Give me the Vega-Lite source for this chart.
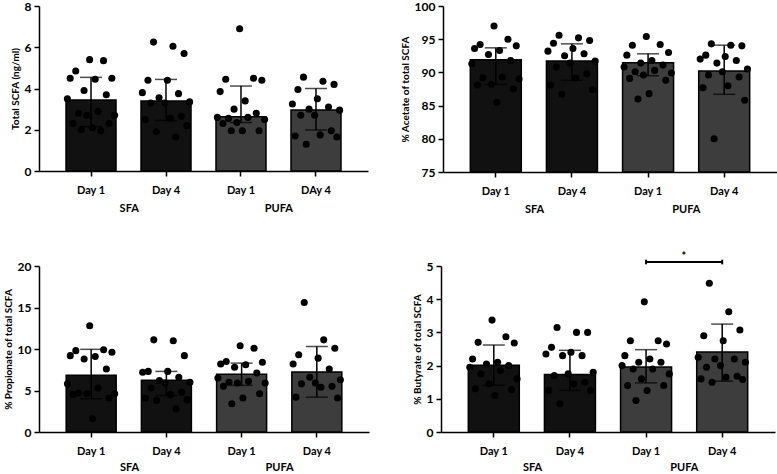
{
"$schema":"https://vega.github.io/schema/vega-lite/v6.json",
"padding":{"left":3,"top":0,"right":0,"bottom":0},
"bounds":"flush",
"spacing":260,
"datasets":{
"b1":[{"cat":"SFA|Day 1","group":"SFA","mean":3.44,"lo":2.15,"hi":4.54},{"cat":"SFA|Day 4","group":"SFA","mean":3.39,"lo":2.45,"hi":4.44},{"cat":"PUFA|Day 1","group":"PUFA","mean":2.63,"lo":2.35,"hi":4.12},{"cat":"PUFA|DAy 4","group":"PUFA","mean":2.96,"lo":1.99,"hi":4.0}],
"b2":[{"cat":"SFA|Day 1","group":"SFA","mean":91.92,"lo":88.2,"hi":93.7},{"cat":"SFA|Day 4","group":"SFA","mean":91.7,"lo":88.8,"hi":94.3},{"cat":"PUFA|Day 1","group":"PUFA","mean":91.47,"lo":89.5,"hi":92.8},{"cat":"PUFA|Day 4","group":"PUFA","mean":90.2,"lo":86.7,"hi":94.1}],
"b3":[{"cat":"SFA|Day 1","group":"SFA","mean":6.83,"lo":4.0,"hi":9.96},{"cat":"SFA|Day 4","group":"SFA","mean":6.22,"lo":4.38,"hi":7.3},{"cat":"PUFA|Day 1","group":"PUFA","mean":6.95,"lo":5.62,"hi":8.3},{"cat":"PUFA|Day 4","group":"PUFA","mean":7.23,"lo":4.2,"hi":10.3}],
"b4":[{"cat":"SFA|Day 1","group":"SFA","mean":2.01,"lo":1.41,"hi":2.62},{"cat":"SFA|Day 4","group":"SFA","mean":1.73,"lo":1.25,"hi":2.46},{"cat":"PUFA|Day 1","group":"PUFA","mean":1.96,"lo":1.48,"hi":2.48},{"cat":"PUFA|Day 4","group":"PUFA","mean":2.41,"lo":1.53,"hi":3.25}],
"s1":[
{"cat":"SFA|Day 1","id":9,"value":5.4},{"cat":"SFA|Day 1","id":14,"value":5.35},{"cat":"SFA|Day 1","id":4,"value":4.85},{"cat":"SFA|Day 1","id":17,"value":4.5},{"cat":"SFA|Day 1","id":2,"value":4.5},{"cat":"SFA|Day 1","id":11,"value":4.45},{"cat":"SFA|Day 1","id":7,"value":3.9},{"cat":"SFA|Day 1","id":15,"value":3.7},{"cat":"SFA|Day 1","id":1,"value":3.5},{"cat":"SFA|Day 1","id":12,"value":2.9},{"cat":"SFA|Day 1","id":5,"value":2.8},{"cat":"SFA|Day 1","id":18,"value":2.7},{"cat":"SFA|Day 1","id":8,"value":2.7},{"cat":"SFA|Day 1","id":3,"value":2.3},{"cat":"SFA|Day 1","id":16,"value":2.3},{"cat":"SFA|Day 1","id":10,"value":2.1},{"cat":"SFA|Day 1","id":6,"value":2.0},{"cat":"SFA|Day 1","id":13,"value":1.95},
{"cat":"SFA|Day 4","id":5,"value":6.25},{"cat":"SFA|Day 4","id":12,"value":6.05},{"cat":"SFA|Day 4","id":16,"value":5.7},{"cat":"SFA|Day 4","id":3,"value":4.4},{"cat":"SFA|Day 4","id":10,"value":4.4},{"cat":"SFA|Day 4","id":1,"value":3.8},{"cat":"SFA|Day 4","id":14,"value":3.75},{"cat":"SFA|Day 4","id":7,"value":3.55},{"cat":"SFA|Day 4","id":18,"value":3.35},{"cat":"SFA|Day 4","id":9,"value":3.3},{"cat":"SFA|Day 4","id":4,"value":3.3},{"cat":"SFA|Day 4","id":15,"value":2.65},{"cat":"SFA|Day 4","id":11,"value":2.55},{"cat":"SFA|Day 4","id":2,"value":2.5},{"cat":"SFA|Day 4","id":17,"value":2.2},{"cat":"SFA|Day 4","id":6,"value":1.9},{"cat":"SFA|Day 4","id":13,"value":1.65},
{"cat":"PUFA|Day 1","id":9,"value":6.9},{"cat":"PUFA|Day 1","id":14,"value":4.5},{"cat":"PUFA|Day 1","id":4,"value":4.45},{"cat":"PUFA|Day 1","id":17,"value":4.4},{"cat":"PUFA|Day 1","id":2,"value":3.85},{"cat":"PUFA|Day 1","id":11,"value":3.4},{"cat":"PUFA|Day 1","id":7,"value":3.0},{"cat":"PUFA|Day 1","id":15,"value":2.8},{"cat":"PUFA|Day 1","id":1,"value":2.6},{"cat":"PUFA|Day 1","id":12,"value":2.6},{"cat":"PUFA|Day 1","id":5,"value":2.55},{"cat":"PUFA|Day 1","id":18,"value":2.5},{"cat":"PUFA|Day 1","id":8,"value":2.35},{"cat":"PUFA|Day 1","id":3,"value":2.3},{"cat":"PUFA|Day 1","id":16,"value":1.95},{"cat":"PUFA|Day 1","id":10,"value":1.95},{"cat":"PUFA|Day 1","id":6,"value":1.95},
{"cat":"PUFA|DAy 4","id":5,"value":4.55},{"cat":"PUFA|DAy 4","id":12,"value":4.35},{"cat":"PUFA|DAy 4","id":16,"value":4.2},{"cat":"PUFA|DAy 4","id":3,"value":3.95},{"cat":"PUFA|DAy 4","id":10,"value":3.5},{"cat":"PUFA|DAy 4","id":1,"value":3.25},{"cat":"PUFA|DAy 4","id":14,"value":3.1},{"cat":"PUFA|DAy 4","id":7,"value":3.0},{"cat":"PUFA|DAy 4","id":18,"value":2.95},{"cat":"PUFA|DAy 4","id":9,"value":2.7},{"cat":"PUFA|DAy 4","id":4,"value":2.7},{"cat":"PUFA|DAy 4","id":15,"value":1.95},{"cat":"PUFA|DAy 4","id":11,"value":1.75},{"cat":"PUFA|DAy 4","id":2,"value":1.7},{"cat":"PUFA|DAy 4","id":17,"value":1.65},{"cat":"PUFA|DAy 4","id":6,"value":1.3}
],
"s2":[
{"cat":"SFA|Day 1","id":9,"value":97.0},{"cat":"SFA|Day 1","id":14,"value":95.0},{"cat":"SFA|Day 1","id":4,"value":94.2},{"cat":"SFA|Day 1","id":17,"value":94.0},{"cat":"SFA|Day 1","id":2,"value":93.6},{"cat":"SFA|Day 1","id":11,"value":93.3},{"cat":"SFA|Day 1","id":7,"value":92.7},{"cat":"SFA|Day 1","id":15,"value":91.8},{"cat":"SFA|Day 1","id":1,"value":91.3},{"cat":"SFA|Day 1","id":12,"value":89.3},{"cat":"SFA|Day 1","id":5,"value":89.2},{"cat":"SFA|Day 1","id":18,"value":89.0},{"cat":"SFA|Day 1","id":8,"value":88.2},{"cat":"SFA|Day 1","id":3,"value":88.1},{"cat":"SFA|Day 1","id":16,"value":87.5},{"cat":"SFA|Day 1","id":10,"value":85.5},
{"cat":"SFA|Day 4","id":5,"value":95.6},{"cat":"SFA|Day 4","id":12,"value":95.2},{"cat":"SFA|Day 4","id":16,"value":94.8},{"cat":"SFA|Day 4","id":3,"value":94.4},{"cat":"SFA|Day 4","id":10,"value":93.6},{"cat":"SFA|Day 4","id":1,"value":93.2},{"cat":"SFA|Day 4","id":14,"value":92.8},{"cat":"SFA|Day 4","id":7,"value":92.5},{"cat":"SFA|Day 4","id":18,"value":91.7},{"cat":"SFA|Day 4","id":9,"value":91.4},{"cat":"SFA|Day 4","id":4,"value":90.8},{"cat":"SFA|Day 4","id":15,"value":89.8},{"cat":"SFA|Day 4","id":11,"value":89.2},{"cat":"SFA|Day 4","id":2,"value":88.1},{"cat":"SFA|Day 4","id":17,"value":87.4},{"cat":"SFA|Day 4","id":6,"value":86.7},
{"cat":"PUFA|Day 1","id":9,"value":95.4},{"cat":"PUFA|Day 1","id":14,"value":94.2},{"cat":"PUFA|Day 1","id":4,"value":94.1},{"cat":"PUFA|Day 1","id":17,"value":93.0},{"cat":"PUFA|Day 1","id":2,"value":92.6},{"cat":"PUFA|Day 1","id":11,"value":91.8},{"cat":"PUFA|Day 1","id":7,"value":91.4},{"cat":"PUFA|Day 1","id":15,"value":91.1},{"cat":"PUFA|Day 1","id":1,"value":90.8},{"cat":"PUFA|Day 1","id":12,"value":90.3},{"cat":"PUFA|Day 1","id":5,"value":90.1},{"cat":"PUFA|Day 1","id":18,"value":89.9},{"cat":"PUFA|Day 1","id":8,"value":89.6},{"cat":"PUFA|Day 1","id":3,"value":89.1},{"cat":"PUFA|Day 1","id":16,"value":88.8},{"cat":"PUFA|Day 1","id":10,"value":86.8},{"cat":"PUFA|Day 1","id":6,"value":86.0},
{"cat":"PUFA|Day 4","id":5,"value":94.3},{"cat":"PUFA|Day 4","id":12,"value":94.1},{"cat":"PUFA|Day 4","id":16,"value":94.0},{"cat":"PUFA|Day 4","id":3,"value":92.6},{"cat":"PUFA|Day 4","id":10,"value":92.4},{"cat":"PUFA|Day 4","id":1,"value":92.0},{"cat":"PUFA|Day 4","id":14,"value":91.8},{"cat":"PUFA|Day 4","id":7,"value":91.4},{"cat":"PUFA|Day 4","id":18,"value":90.5},{"cat":"PUFA|Day 4","id":9,"value":90.1},{"cat":"PUFA|Day 4","id":4,"value":89.6},{"cat":"PUFA|Day 4","id":15,"value":89.3},{"cat":"PUFA|Day 4","id":11,"value":88.0},{"cat":"PUFA|Day 4","id":2,"value":87.7},{"cat":"PUFA|Day 4","id":17,"value":85.8},{"cat":"PUFA|Day 4","id":6,"value":80.0}
],
"s3":[
{"cat":"SFA|Day 1","id":9,"value":12.8},{"cat":"SFA|Day 1","id":14,"value":9.9},{"cat":"SFA|Day 1","id":4,"value":9.8},{"cat":"SFA|Day 1","id":17,"value":9.6},{"cat":"SFA|Day 1","id":2,"value":9.2},{"cat":"SFA|Day 1","id":11,"value":9.1},{"cat":"SFA|Day 1","id":7,"value":8.8},{"cat":"SFA|Day 1","id":15,"value":7.6},{"cat":"SFA|Day 1","id":1,"value":5.8},{"cat":"SFA|Day 1","id":12,"value":5.3},{"cat":"SFA|Day 1","id":5,"value":4.7},{"cat":"SFA|Day 1","id":18,"value":4.6},{"cat":"SFA|Day 1","id":8,"value":4.6},{"cat":"SFA|Day 1","id":3,"value":4.5},{"cat":"SFA|Day 1","id":16,"value":4.1},{"cat":"SFA|Day 1","id":10,"value":1.6},
{"cat":"SFA|Day 4","id":5,"value":11.1},{"cat":"SFA|Day 4","id":12,"value":11.0},{"cat":"SFA|Day 4","id":16,"value":9.2},{"cat":"SFA|Day 4","id":3,"value":7.3},{"cat":"SFA|Day 4","id":10,"value":7.3},{"cat":"SFA|Day 4","id":1,"value":7.2},{"cat":"SFA|Day 4","id":14,"value":6.6},{"cat":"SFA|Day 4","id":7,"value":6.2},{"cat":"SFA|Day 4","id":18,"value":6.0},{"cat":"SFA|Day 4","id":9,"value":5.9},{"cat":"SFA|Day 4","id":4,"value":5.3},{"cat":"SFA|Day 4","id":15,"value":4.8},{"cat":"SFA|Day 4","id":11,"value":4.5},{"cat":"SFA|Day 4","id":2,"value":4.1},{"cat":"SFA|Day 4","id":17,"value":3.9},{"cat":"SFA|Day 4","id":6,"value":3.8},{"cat":"SFA|Day 4","id":13,"value":2.8},
{"cat":"PUFA|Day 1","id":9,"value":10.4},{"cat":"PUFA|Day 1","id":14,"value":10.1},{"cat":"PUFA|Day 1","id":4,"value":8.5},{"cat":"PUFA|Day 1","id":17,"value":8.4},{"cat":"PUFA|Day 1","id":2,"value":8.2},{"cat":"PUFA|Day 1","id":11,"value":8.1},{"cat":"PUFA|Day 1","id":7,"value":7.8},{"cat":"PUFA|Day 1","id":15,"value":7.1},{"cat":"PUFA|Day 1","id":1,"value":6.5},{"cat":"PUFA|Day 1","id":12,"value":6.1},{"cat":"PUFA|Day 1","id":5,"value":6.0},{"cat":"PUFA|Day 1","id":18,"value":5.9},{"cat":"PUFA|Day 1","id":8,"value":5.9},{"cat":"PUFA|Day 1","id":3,"value":5.5},{"cat":"PUFA|Day 1","id":16,"value":4.6},{"cat":"PUFA|Day 1","id":10,"value":4.1},{"cat":"PUFA|Day 1","id":6,"value":3.4},
{"cat":"PUFA|Day 4","id":5,"value":15.6},{"cat":"PUFA|Day 4","id":12,"value":11.1},{"cat":"PUFA|Day 4","id":16,"value":10.1},{"cat":"PUFA|Day 4","id":3,"value":9.3},{"cat":"PUFA|Day 4","id":10,"value":8.9},{"cat":"PUFA|Day 4","id":1,"value":8.2},{"cat":"PUFA|Day 4","id":14,"value":7.6},{"cat":"PUFA|Day 4","id":7,"value":6.6},{"cat":"PUFA|Day 4","id":18,"value":6.3},{"cat":"PUFA|Day 4","id":9,"value":5.9},{"cat":"PUFA|Day 4","id":4,"value":5.8},{"cat":"PUFA|Day 4","id":15,"value":5.5},{"cat":"PUFA|Day 4","id":11,"value":5.4},{"cat":"PUFA|Day 4","id":2,"value":4.2},{"cat":"PUFA|Day 4","id":17,"value":4.1}
],
"s4":[
{"cat":"SFA|Day 1","id":9,"value":3.37},{"cat":"SFA|Day 1","id":14,"value":2.87},{"cat":"SFA|Day 1","id":4,"value":2.7},{"cat":"SFA|Day 1","id":17,"value":2.68},{"cat":"SFA|Day 1","id":2,"value":2.2},{"cat":"SFA|Day 1","id":11,"value":2.1},{"cat":"SFA|Day 1","id":7,"value":2.05},{"cat":"SFA|Day 1","id":15,"value":2.0},{"cat":"SFA|Day 1","id":1,"value":1.95},{"cat":"SFA|Day 1","id":12,"value":1.85},{"cat":"SFA|Day 1","id":5,"value":1.75},{"cat":"SFA|Day 1","id":18,"value":1.6},{"cat":"SFA|Day 1","id":8,"value":1.45},{"cat":"SFA|Day 1","id":3,"value":1.3},{"cat":"SFA|Day 1","id":16,"value":1.28},{"cat":"SFA|Day 1","id":10,"value":1.1},
{"cat":"SFA|Day 4","id":5,"value":3.15},{"cat":"SFA|Day 4","id":12,"value":3.0},{"cat":"SFA|Day 4","id":16,"value":3.0},{"cat":"SFA|Day 4","id":3,"value":2.55},{"cat":"SFA|Day 4","id":10,"value":2.4},{"cat":"SFA|Day 4","id":1,"value":2.35},{"cat":"SFA|Day 4","id":14,"value":2.3},{"cat":"SFA|Day 4","id":7,"value":2.3},{"cat":"SFA|Day 4","id":18,"value":1.8},{"cat":"SFA|Day 4","id":9,"value":1.75},{"cat":"SFA|Day 4","id":4,"value":1.7},{"cat":"SFA|Day 4","id":15,"value":1.5},{"cat":"SFA|Day 4","id":11,"value":1.45},{"cat":"SFA|Day 4","id":2,"value":1.25},{"cat":"SFA|Day 4","id":17,"value":1.25},{"cat":"SFA|Day 4","id":6,"value":0.85},
{"cat":"PUFA|Day 1","id":9,"value":3.92},{"cat":"PUFA|Day 1","id":14,"value":2.75},{"cat":"PUFA|Day 1","id":4,"value":2.75},{"cat":"PUFA|Day 1","id":17,"value":2.65},{"cat":"PUFA|Day 1","id":2,"value":2.3},{"cat":"PUFA|Day 1","id":11,"value":2.2},{"cat":"PUFA|Day 1","id":7,"value":2.1},{"cat":"PUFA|Day 1","id":15,"value":2.1},{"cat":"PUFA|Day 1","id":1,"value":2.0},{"cat":"PUFA|Day 1","id":12,"value":1.9},{"cat":"PUFA|Day 1","id":5,"value":1.9},{"cat":"PUFA|Day 1","id":18,"value":1.75},{"cat":"PUFA|Day 1","id":8,"value":1.6},{"cat":"PUFA|Day 1","id":3,"value":1.4},{"cat":"PUFA|Day 1","id":16,"value":1.4},{"cat":"PUFA|Day 1","id":10,"value":1.25},{"cat":"PUFA|Day 1","id":6,"value":0.95},
{"cat":"PUFA|Day 4","id":5,"value":4.48},{"cat":"PUFA|Day 4","id":12,"value":3.62},{"cat":"PUFA|Day 4","id":16,"value":3.07},{"cat":"PUFA|Day 4","id":3,"value":2.9},{"cat":"PUFA|Day 4","id":10,"value":2.75},{"cat":"PUFA|Day 4","id":1,"value":2.25},{"cat":"PUFA|Day 4","id":14,"value":2.2},{"cat":"PUFA|Day 4","id":7,"value":2.2},{"cat":"PUFA|Day 4","id":18,"value":2.1},{"cat":"PUFA|Day 4","id":9,"value":2.0},{"cat":"PUFA|Day 4","id":4,"value":1.95},{"cat":"PUFA|Day 4","id":15,"value":1.68},{"cat":"PUFA|Day 4","id":11,"value":1.65},{"cat":"PUFA|Day 4","id":2,"value":1.6},{"cat":"PUFA|Day 4","id":17,"value":1.58},{"cat":"PUFA|Day 4","id":6,"value":1.5}
]
},
"vconcat":[
{"hconcat":[
{"width":329,"height":165,
 "layer":[
  {"encoding":{"x":{"field":"cat","type":"nominal","title":null,"scale":{"type":"band","domain":["SFA|Day 1","SFA|Day 4","PUFA|Day 1","PUFA|DAy 4"],"paddingInner":0.333,"paddingOuter":0.36},"axis":{"labelExpr":"split(datum.label,'|')[1]","labelAngle":0}}},
   "layer":[
    {"data":{"name":"b1"},"mark":{"type":"bar","stroke":"black","strokeWidth":1.5,"width":50},"encoding":{"y":{"field":"mean","type":"quantitative","title":"Total SCFA (ng/ml)","scale":{"domain":[0,8]},"axis":{"values":[0,2,4,6,8]}},"fill":{"field":"group","type":"nominal","scale":{"domain":["SFA","PUFA"],"range":["#111111","#3d3d3d"]},"legend":null}}},
    {"data":{"name":"b1"},"mark":{"type":"rule","color":"black","strokeWidth":1.5},"encoding":{"y":{"field":"lo","type":"quantitative","title":"Total SCFA (ng/ml)","scale":{"domain":[0,8]},"axis":{"values":[0,2,4,6,8]}},"y2":{"field":"hi"}}},
    {"data":{"name":"b1"},"mark":{"type":"tick","color":"black","thickness":1.5,"size":22},"encoding":{"y":{"field":"lo","type":"quantitative","title":"Total SCFA (ng/ml)","scale":{"domain":[0,8]},"axis":{"values":[0,2,4,6,8]}}}},
    {"data":{"name":"b1"},"mark":{"type":"tick","color":"black","thickness":1.5,"size":22},"encoding":{"y":{"field":"hi","type":"quantitative","title":"Total SCFA (ng/ml)","scale":{"domain":[0,8]},"axis":{"values":[0,2,4,6,8]}}}},
    {"data":{"name":"s1"},"mark":{"type":"circle","size":50,"color":"black","opacity":1},"encoding":{"xOffset":{"field":"id","type":"nominal","scale":{"domain":[1,2,3,4,5,6,7,8,9,10,11,12,13,14,15,16,17,18]}},"y":{"field":"value","type":"quantitative","title":"Total SCFA (ng/ml)","scale":{"domain":[0,8]},"axis":{"values":[0,2,4,6,8]}}}}
   ]},
  {"data":{"values":[{"group":"SFA","t":""},{"group":"PUFA","t":""}]},"mark":{"type":"text"},"encoding":{"x":{"field":"group","type":"nominal","title":null,"scale":{"type":"point","domain":["SFA","PUFA"],"padding":0.6},"axis":{"orient":"bottom","domain":false,"ticks":false,"labelPadding":31,"labelAngle":0}},"text":{"field":"t"}}}
 ],
 "resolve":{"scale":{"x":"independent"}}
},
{"width":334,"height":166,
 "layer":[
  {"encoding":{"x":{"field":"cat","type":"nominal","title":null,"scale":{"type":"band","domain":["SFA|Day 1","SFA|Day 4","PUFA|Day 1","PUFA|Day 4"],"paddingInner":0.333,"paddingOuter":0.36},"axis":{"labelExpr":"split(datum.label,'|')[1]","labelAngle":0}}},
   "layer":[
    {"data":{"name":"b2"},"mark":{"type":"bar","stroke":"black","strokeWidth":1.5,"width":51},"encoding":{"y":{"field":"mean","type":"quantitative","title":"% Acetate of total SCFA","scale":{"domain":[75,100],"zero":false},"axis":{"values":[75,80,85,90,95,100]}},"y2":{"datum":75},"fill":{"field":"group","type":"nominal","scale":{"domain":["SFA","PUFA"],"range":["#111111","#3d3d3d"]},"legend":null}}},
    {"data":{"name":"b2"},"mark":{"type":"rule","color":"black","strokeWidth":1.5},"encoding":{"y":{"field":"lo","type":"quantitative","title":"% Acetate of total SCFA","scale":{"domain":[75,100],"zero":false},"axis":{"values":[75,80,85,90,95,100]}},"y2":{"field":"hi"}}},
    {"data":{"name":"b2"},"mark":{"type":"tick","color":"black","thickness":1.5,"size":22},"encoding":{"y":{"field":"lo","type":"quantitative","title":"% Acetate of total SCFA","scale":{"domain":[75,100],"zero":false},"axis":{"values":[75,80,85,90,95,100]}}}},
    {"data":{"name":"b2"},"mark":{"type":"tick","color":"black","thickness":1.5,"size":22},"encoding":{"y":{"field":"hi","type":"quantitative","title":"% Acetate of total SCFA","scale":{"domain":[75,100],"zero":false},"axis":{"values":[75,80,85,90,95,100]}}}},
    {"data":{"name":"s2"},"mark":{"type":"circle","size":50,"color":"black","opacity":1},"encoding":{"xOffset":{"field":"id","type":"nominal","scale":{"domain":[1,2,3,4,5,6,7,8,9,10,11,12,13,14,15,16,17,18]}},"y":{"field":"value","type":"quantitative","title":"% Acetate of total SCFA","scale":{"domain":[75,100],"zero":false},"axis":{"values":[75,80,85,90,95,100]}}}}
   ]},
  {"data":{"values":[{"group":"SFA","t":""},{"group":"PUFA","t":""}]},"mark":{"type":"text"},"encoding":{"x":{"field":"group","type":"nominal","title":null,"scale":{"type":"point","domain":["SFA","PUFA"],"padding":0.6},"axis":{"orient":"bottom","domain":false,"ticks":false,"labelPadding":31,"labelAngle":0}},"text":{"field":"t"}}}
 ],
 "resolve":{"scale":{"x":"independent"}}
}
],"spacing":75,"bounds":"flush"},
{"hconcat":[
{"width":330,"height":166,
 "layer":[
  {"encoding":{"x":{"field":"cat","type":"nominal","title":null,"scale":{"type":"band","domain":["SFA|Day 1","SFA|Day 4","PUFA|Day 1","PUFA|Day 4"],"paddingInner":0.333,"paddingOuter":0.36},"axis":{"labelExpr":"split(datum.label,'|')[1]","labelAngle":0}}},
   "layer":[
    {"data":{"name":"b3"},"mark":{"type":"bar","stroke":"black","strokeWidth":1.5,"width":50},"encoding":{"y":{"field":"mean","type":"quantitative","title":"% Propionate of total SCFA","scale":{"domain":[0,20]},"axis":{"values":[0,5,10,15,20]}},"fill":{"field":"group","type":"nominal","scale":{"domain":["SFA","PUFA"],"range":["#111111","#3d3d3d"]},"legend":null}}},
    {"data":{"name":"b3"},"mark":{"type":"rule","color":"black","strokeWidth":1.5},"encoding":{"y":{"field":"lo","type":"quantitative","title":"% Propionate of total SCFA","scale":{"domain":[0,20]},"axis":{"values":[0,5,10,15,20]}},"y2":{"field":"hi"}}},
    {"data":{"name":"b3"},"mark":{"type":"tick","color":"black","thickness":1.5,"size":22},"encoding":{"y":{"field":"lo","type":"quantitative","title":"% Propionate of total SCFA","scale":{"domain":[0,20]},"axis":{"values":[0,5,10,15,20]}}}},
    {"data":{"name":"b3"},"mark":{"type":"tick","color":"black","thickness":1.5,"size":22},"encoding":{"y":{"field":"hi","type":"quantitative","title":"% Propionate of total SCFA","scale":{"domain":[0,20]},"axis":{"values":[0,5,10,15,20]}}}},
    {"data":{"name":"s3"},"mark":{"type":"circle","size":50,"color":"black","opacity":1},"encoding":{"xOffset":{"field":"id","type":"nominal","scale":{"domain":[1,2,3,4,5,6,7,8,9,10,11,12,13,14,15,16,17,18]}},"y":{"field":"value","type":"quantitative","title":"% Propionate of total SCFA","scale":{"domain":[0,20]},"axis":{"values":[0,5,10,15,20]}}}}
   ]},
  {"data":{"values":[{"group":"SFA","t":""},{"group":"PUFA","t":""}]},"mark":{"type":"text"},"encoding":{"x":{"field":"group","type":"nominal","title":null,"scale":{"type":"point","domain":["SFA","PUFA"],"padding":0.6},"axis":{"orient":"bottom","domain":false,"ticks":false,"labelPadding":29,"labelAngle":0}},"text":{"field":"t"}}}
 ],
 "resolve":{"scale":{"x":"independent"}}
},
{"width":334,"height":166,
 "layer":[
  {"encoding":{"x":{"field":"cat","type":"nominal","title":null,"scale":{"type":"band","domain":["SFA|Day 1","SFA|Day 4","PUFA|Day 1","PUFA|Day 4"],"paddingInner":0.333,"paddingOuter":0.36},"axis":{"labelExpr":"split(datum.label,'|')[1]","labelAngle":0}}},
   "layer":[
    {"data":{"name":"b4"},"mark":{"type":"bar","stroke":"black","strokeWidth":1.5,"width":51},"encoding":{"y":{"field":"mean","type":"quantitative","title":"% Butyrate of total SCFA","scale":{"domain":[0,5]},"axis":{"values":[0,1,2,3,4,5]}},"fill":{"field":"group","type":"nominal","scale":{"domain":["SFA","PUFA"],"range":["#111111","#3d3d3d"]},"legend":null}}},
    {"data":{"name":"b4"},"mark":{"type":"rule","color":"black","strokeWidth":1.5},"encoding":{"y":{"field":"lo","type":"quantitative","title":"% Butyrate of total SCFA","scale":{"domain":[0,5]},"axis":{"values":[0,1,2,3,4,5]}},"y2":{"field":"hi"}}},
    {"data":{"name":"b4"},"mark":{"type":"tick","color":"black","thickness":1.5,"size":22},"encoding":{"y":{"field":"lo","type":"quantitative","title":"% Butyrate of total SCFA","scale":{"domain":[0,5]},"axis":{"values":[0,1,2,3,4,5]}}}},
    {"data":{"name":"b4"},"mark":{"type":"tick","color":"black","thickness":1.5,"size":22},"encoding":{"y":{"field":"hi","type":"quantitative","title":"% Butyrate of total SCFA","scale":{"domain":[0,5]},"axis":{"values":[0,1,2,3,4,5]}}}},
    {"data":{"name":"s4"},"mark":{"type":"circle","size":50,"color":"black","opacity":1},"encoding":{"xOffset":{"field":"id","type":"nominal","scale":{"domain":[1,2,3,4,5,6,7,8,9,10,11,12,13,14,15,16,17,18]}},"y":{"field":"value","type":"quantitative","title":"% Butyrate of total SCFA","scale":{"domain":[0,5]},"axis":{"values":[0,1,2,3,4,5]}}}},
    {"data":{"values":[{"from":"PUFA|Day 1","to":"PUFA|Day 4","level":5.12}]},"mark":{"type":"rule","color":"black","strokeWidth":2},"encoding":{"x":{"field":"from","type":"nominal"},"x2":{"field":"to"},"y":{"field":"level","type":"quantitative","title":"% Butyrate of total SCFA","scale":{"domain":[0,5]},"axis":{"values":[0,1,2,3,4,5]}}}},
    {"data":{"values":[{"cat":"PUFA|Day 1","lo":5.05,"hi":5.19},{"cat":"PUFA|Day 4","lo":5.05,"hi":5.19}]},"mark":{"type":"rule","color":"black","strokeWidth":2},"encoding":{"y":{"field":"lo","type":"quantitative","title":"% Butyrate of total SCFA","scale":{"domain":[0,5]},"axis":{"values":[0,1,2,3,4,5]}},"y2":{"field":"hi"}}}
   ]},
  {"data":{"values":[{"group":"SFA","t":"","level":5.28},{"group":"PUFA","t":"*","level":5.28}]},"mark":{"type":"text","fontSize":11,"fontWeight":"bold","font":"Lato","color":"black"},"encoding":{"x":{"field":"group","type":"nominal","title":null,"scale":{"type":"point","domain":["SFA","PUFA"],"padding":0.6},"axis":{"orient":"bottom","domain":false,"ticks":false,"labelPadding":29,"labelAngle":0}},"y":{"field":"level","type":"quantitative","title":"% Butyrate of total SCFA","scale":{"domain":[0,5]},"axis":{"values":[0,1,2,3,4,5]}},"text":{"field":"t"}}}
 ],
 "resolve":{"scale":{"x":"independent"}}
}
],"spacing":72,"bounds":"flush"}
],
"config":{
 "font":"Lato",
 "view":{"stroke":null},
 "axis":{"domainColor":"black","domainWidth":1.5,"tickColor":"black","tickWidth":1.5,"tickSize":5,"labelFont":"Lato","labelFontWeight":"bold","labelFontSize":11,"labelColor":"black","titleFont":"Lato","titleFontWeight":"bold","titleFontSize":10,"titleColor":"black","grid":false,"labelOverlap":false},
 "axisX":{"labelPadding":8},
 "axisY":{"labelFontSize":12,"labelOverlap":false,"labelPadding":3}
}
}
